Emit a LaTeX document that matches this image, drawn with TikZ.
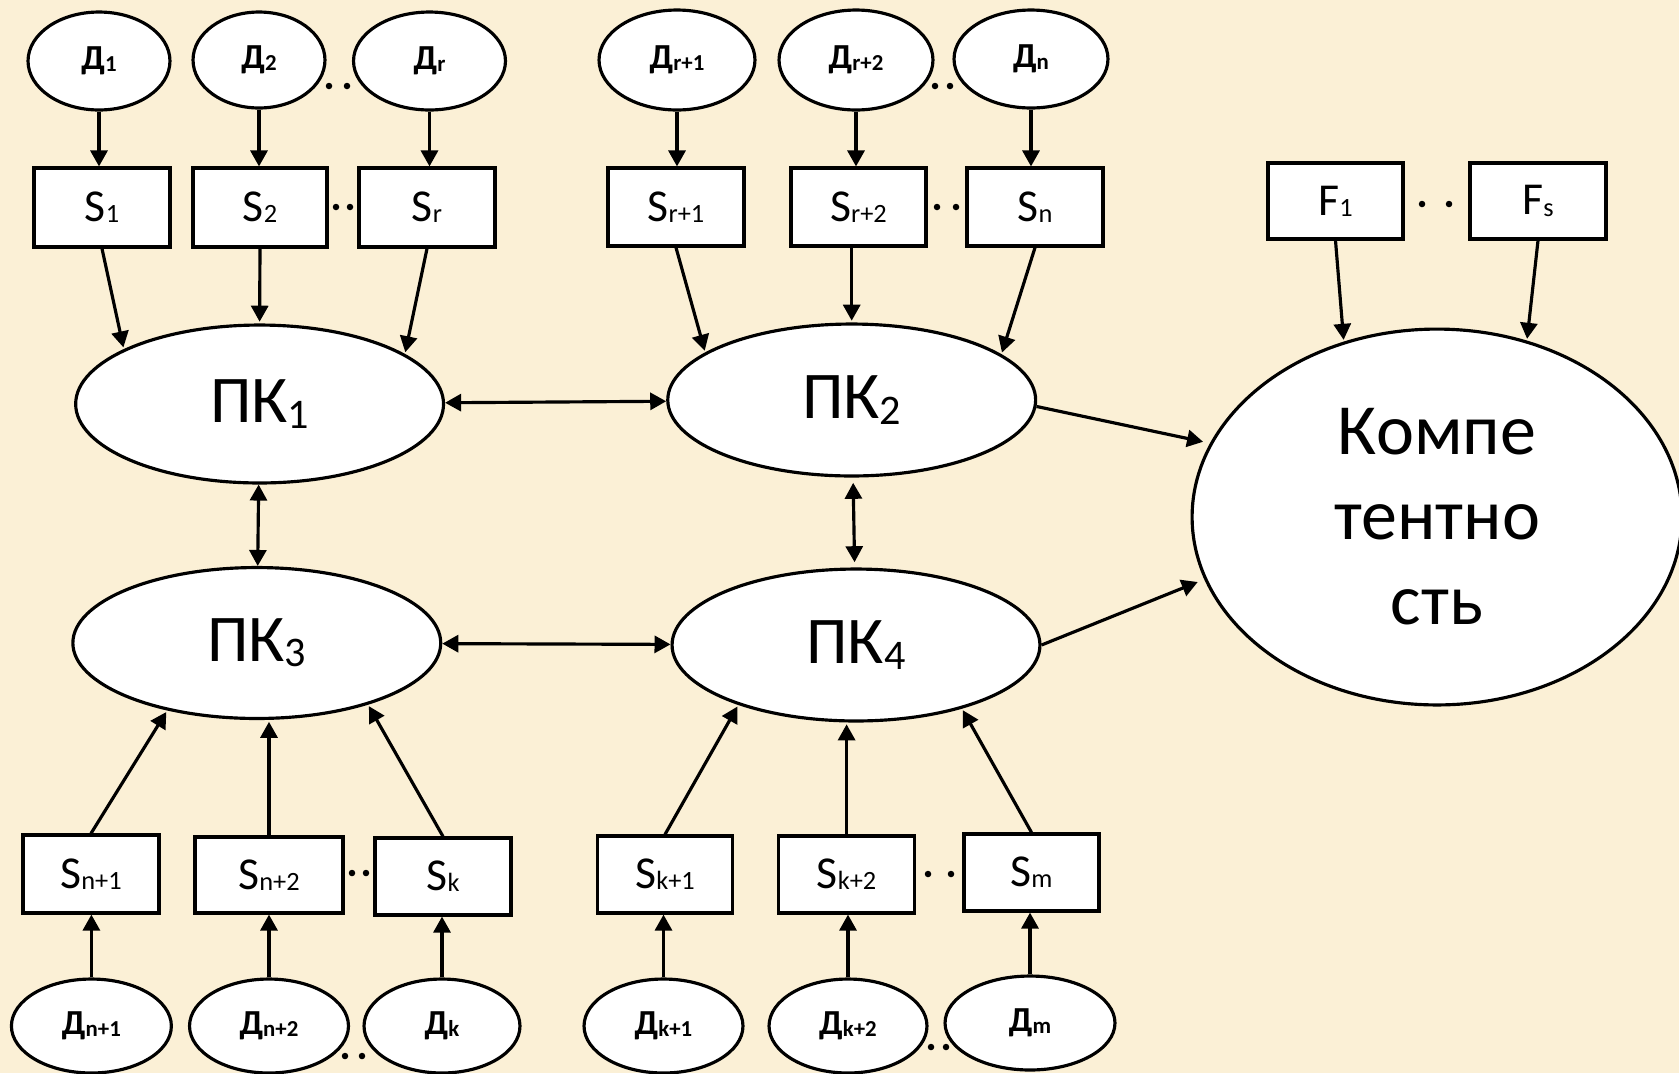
\documentclass[tikz,border=0pt]{standalone}
\usepackage{fontspec}
\setmainfont{Carlito}
\usetikzlibrary{shapes.geometric,arrows.meta}
\definecolor{parch}{RGB}{251,240,214}
\newcommand\lo[3]{\raisebox{#2}{\fontsize{#1}{#1}\selectfont #3}}
\newcommand\dsub[1]{\lo{13}{-1pt}{#1}}
\newcommand\ssub[1]{\lo{15}{-0.7pt}{#1}}
\newcommand\psub[1]{\lo{24}{-3pt}{#1}}
\tikzset{
  ell/.style 2 args={minimum width={#1*0.04cm}, minimum height={#2*0.04cm}},
  bx/.style 2 args={minimum width={#1*0.02cm}, minimum height={#2*0.02cm}},
  dnode/.style={ellipse, draw, fill=white, line width=1.8pt, inner sep=0pt,
    font=\bfseries\fontsize{20}{22}\selectfont},
  sbox/.style={rectangle, draw, fill=white, line width=1.8pt, inner sep=0pt,
    font=\fontsize{26}{30}\selectfont},
  pknode/.style={ellipse, draw, fill=white, line width=1.8pt, inner sep=0pt,
    font=\fontsize{38}{42}\selectfont},
  arr/.style={line width=1.8pt, -{Triangle[length=0.32cm,width=0.34cm]}},
  darr/.style={line width=1.8pt, {Triangle[length=0.32cm,width=0.34cm]}-{Triangle[length=0.32cm,width=0.34cm]}},
  dotp/.style={fill=black}
}
\begin{document}
\begin{tikzpicture}[x=0.02cm,y=-0.02cm]
\useasboundingbox (0,0) rectangle (1679,1073);
\fill[parch] (0,0) rectangle (1679,1073);

% top D ellipses
\node[dnode, ell={71}{49}] (d1) at (99,61) {Д\dsub{1}};
\node[dnode, ell={66}{48}] (d2) at (259,60) {Д\dsub{2}};
\node[dnode, ell={76}{49}] (dr) at (429.5,61) {Д\dsub{r}};
\node[dnode, ell={78}{50}] (dr1) at (677,60) {Д\dsub{r+1}};
\node[dnode, ell={77}{50}] (dr2) at (856,60) {Д\dsub{r+2}};
\node[dnode, ell={77}{49}] (dn) at (1031,59) {Д\dsub{n}};

% top S boxes
\node[sbox, bx={136}{79}] (s1) at (102,207.5) {S\ssub{1}};
\node[sbox, bx={134}{79}] (s2) at (260,207.5) {S\ssub{2}};
\node[sbox, bx={136}{79}] (sr) at (427,207.5) {S\ssub{r}};
\node[sbox, bx={136}{78}] (sr1) at (676,207) {S\ssub{r+1}};
\node[sbox, bx={135}{78}] (sr2) at (858.5,207) {S\ssub{r+2}};
\node[sbox, bx={136}{78}] (sn) at (1035,207) {S\ssub{n}};
\node[sbox, bx={135}{76}] (f1) at (1335.5,201) {F\ssub{1}};
\node[sbox, bx={136}{76}] (fs) at (1538,201) {F\ssub{s}};

% PK ellipses
\node[pknode, ell={184}{79}] (pk1) at (259.6,404) {ПК\psub{1}};
\node[pknode, ell={184}{76}] (pk2) at (851.7,400) {ПК\psub{2}};
\node[pknode, ell={184}{75.5}] (pk3) at (256.8,643) {ПК\psub{3}};
\node[pknode, ell={184}{76}] (pk4) at (856,645) {ПК\psub{4}};
\node[ellipse, draw, fill=white, line width=1.8pt, inner sep=0pt, ell={245}{188},
  align=center, font=\fontsize{41}{48.4}\selectfont] (komp) at (1437,517)
  {Компе\\тентно\\сть};

% bottom S boxes
\node[sbox, bx={136}{78}] (sn1) at (91,874) {S\ssub{n+1}};
\node[sbox, bx={148}{76}] (sn2) at (269,875) {S\ssub{n+2}};
\node[sbox, bx={136}{77}] (sk) at (443,876.5) {S\ssub{k}};
\node[sbox, bx={135}{77}] (sk1) at (665,874.5) {S\ssub{k+1}};
\node[sbox, bx={136}{77}] (sk2) at (846.6,874.5) {S\ssub{k+2}};
\node[sbox, bx={135}{77}] (sm) at (1031.5,872.5) {S\ssub{m}};

% bottom D ellipses
\node[dnode, ell={80}{47}] (dn1) at (91.4,1026) {Д\dsub{n+1}};
\node[dnode, ell={79.5}{47}] (dn2) at (269,1026) {Д\dsub{n+2}};
\node[dnode, ell={78}{47}] (dk) at (442,1026) {Д\dsub{k}};
\node[dnode, ell={79.5}{47}] (dk1) at (663.5,1026) {Д\dsub{k+1}};
\node[dnode, ell={79}{47}] (dk2) at (848,1026) {Д\dsub{k+2}};
\node[dnode, ell={85}{47}] (dm) at (1030,1023) {Д\dsub{m}};

% D -> S (top)
\foreach \a/\b in {d1/s1,d2/s2,dr/sr,dr1/sr1,dr2/sr2,dn/sn}
  \draw[arr] (\a.south) -- (\a.south |- \b.north);
% D -> S (bottom)
\foreach \a/\b in {dn1/sn1,dn2/sn2,dk/sk,dk1/sk1,dk2/sk2,dm/sm}
  \draw[arr] (\a.north) -- (\a.north |- \b.south);

% S -> PK (top)
\draw[arr,shorten >=1pt] (s1.south) -- (pk1.158);
\draw[arr,shorten >=1pt] (s2.south) -- (pk1.north);
\draw[arr,shorten >=1pt] (sr.south) -- (pk1.19);
\draw[arr,shorten >=1pt] (sr1.south) -- (pk2.162);
\draw[arr,shorten >=1pt] (pk2.north |- sr2.south) -- (pk2.north);
\draw[arr,shorten >=1pt] (sn.south) -- (pk2.17);

% S -> PK (bottom)
\draw[arr,shorten >=1pt] (sn1.north) -- (pk3.217);
\draw[arr,shorten >=1pt] (sn2.north) -- (sn2.north |- pk3.south);
\draw[arr,shorten >=1pt] (sk.north) -- (pk3.331);
\draw[arr,shorten >=1pt] (sk1.north) -- (pk4.207);
\draw[arr,shorten >=1pt] (sk2.north) -- (sk2.north |- pk4.south);
\draw[arr,shorten >=1pt] (sm.north) -- (pk4.329);

% F -> competence
\draw[arr,shorten >=1pt] (f1.south) -- (komp.118);
\draw[arr,shorten >=1pt] (fs.south) -- (komp.63);

% PK links
\draw[darr] (pk1) -- (pk2);
\draw[darr] (pk1) -- (pk3);
\draw[darr,shorten <=3pt,shorten >=3pt] (pk2) -- (pk4);
\draw[darr] (pk3) -- (pk4);
\draw[arr,shorten >=4pt] (pk2.-2.5) -- (komp.162);
\draw[arr,shorten >=4pt] (pk4.east) -- (komp.195);

% ellipsis dots
\foreach \x/\y in {329/86,347/86,935/86,950/86,
                   336/207,350/207,937/207,956/207,1422/204,1449/204,
                   352/873,366/873,928/874,951/874,
                   345/1056,362/1056,931/1047,946/1047}
  \fill[dotp] (\x,\y) circle[radius=0.065cm];
\end{tikzpicture}
\end{document}
